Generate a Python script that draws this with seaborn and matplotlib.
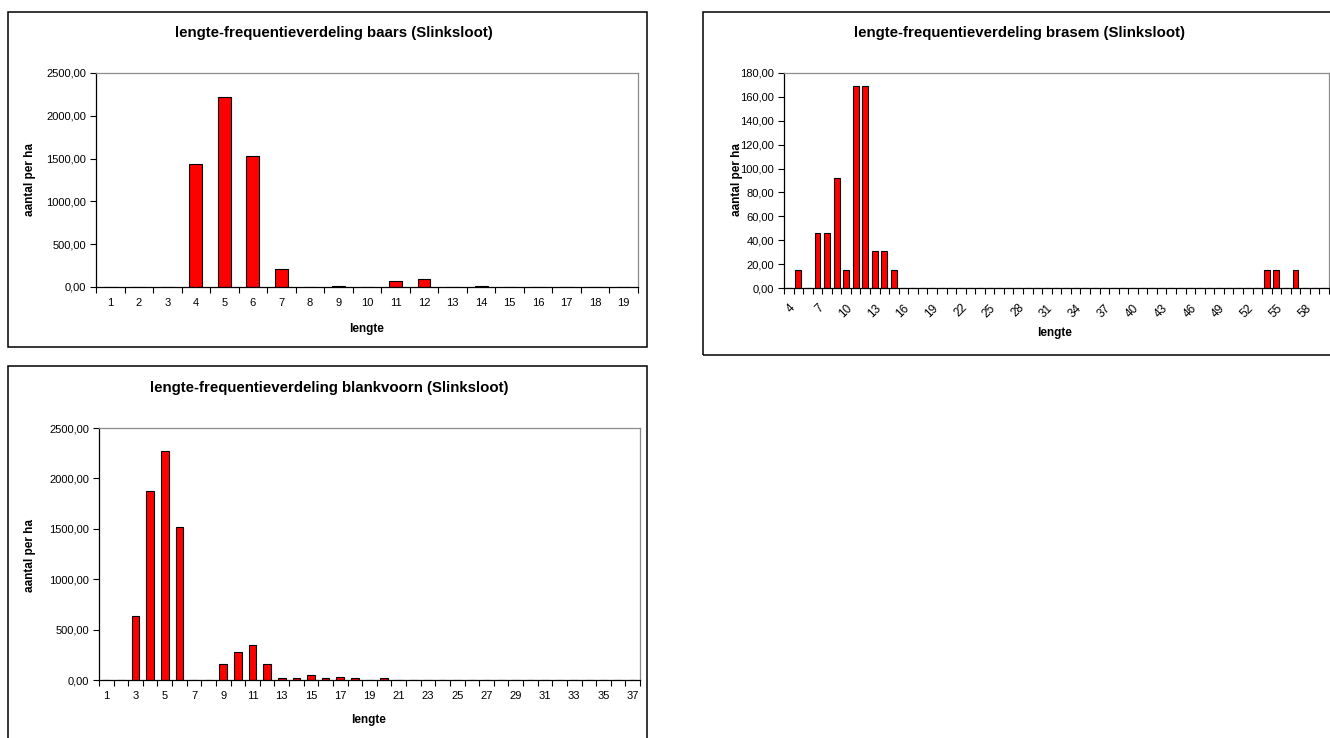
import numpy as np
import pandas as pd
import matplotlib
matplotlib.use("Agg")
import matplotlib.pyplot as plt
import seaborn as sns
from matplotlib.ticker import FuncFormatter, MultipleLocator
from matplotlib.patches import Rectangle

# ---- data: number per hectare for each length class (cm) ----
baars_lengte = list(range(1, 20))
baars_aantal = [0, 0, 0, 1440, 2215, 1530, 205, 0, 15, 0,
                65, 98, 0, 15, 0, 0, 0, 0, 0]

brasem_lengte = list(range(4, 61))
brasem_aantal = [0, 15.4, 0, 46.2, 46.2, 92.4, 15.4, 169.4, 169.4, 30.8,
                 30.8, 15.4, 0, 0, 0, 0, 0, 0, 0, 0,
                 0, 0, 0, 0, 0, 0, 0, 0, 0, 0,
                 0, 0, 0, 0, 0, 0, 0, 0, 0, 0,
                 0, 0, 0, 0, 0, 0, 0, 0, 0, 0,
                 15.4, 15.4, 0, 15.4, 0, 0, 0]

blankvoorn_lengte = list(range(1, 38))
blankvoorn_aantal = [0, 0, 632, 1877, 2275, 1520, 0, 0, 156, 275,
                     344, 156, 23, 23, 46, 23, 31, 23, 0, 23,
                     0, 0, 0, 0, 0, 0, 0, 0, 0, 0,
                     0, 0, 0, 0, 0, 0, 0]

titles = {
    "baars": "lengte-frequentieverdeling baars (Slinksloot)",
    "brasem": "lengte-frequentieverdeling brasem (Slinksloot)",
    "blankvoorn": "lengte-frequentieverdeling blankvoorn (Slinksloot)",
}

sns.set_theme(style="white")
plt.rcParams["font.family"] = ["Liberation Sans", "DejaVu Sans"]
plt.rcParams["text.color"] = "black"
plt.rcParams["axes.labelcolor"] = "black"
plt.rcParams["xtick.color"] = "black"
plt.rcParams["ytick.color"] = "black"

W, H = 1330, 738
fig = plt.figure(figsize=(W / 100, H / 100), dpi=100)
fig.patch.set_facecolor("white")

TICK_FS = 8
LABEL_FS = 8.5
TITLE_FS = 10.8


def px_axes(x0, y0, x1, y1):
    return fig.add_axes([x0 / W, 1 - y1 / H, (x1 - x0) / W, (y1 - y0) / H])


def frame(x0, y0, x1, y1):
    fig.add_artist(Rectangle((x0 / W, 1 - y1 / H), (x1 - x0) / W, (y1 - y0) / H,
                             transform=fig.transFigure, fill=False,
                             edgecolor="black", linewidth=1.1))


def ftext(x, y, s, **kw):
    fig.text(x / W, 1 - y / H, s, color="black", **kw)


comma = FuncFormatter(lambda v, pos: f"{v:.2f}".replace(".", ","))


def draw(ax, lengte, aantal, ymax, ystep, width, every, rotate=False):
    df = pd.DataFrame({"lengte": [str(v) for v in lengte], "aantal": aantal})
    sns.barplot(data=df, x="lengte", y="aantal", order=list(df["lengte"]),
                color="#ff0000", saturation=1, edgecolor="black",
                linewidth=0.8, width=width, errorbar=None, ax=ax)
    n = len(lengte)
    ax.set_xlim(-0.5, n - 0.5)
    ax.set_ylim(0, ymax)
    idx = list(range(0, n, every))
    ax.set_xticks(idx)
    if rotate:
        ax.set_xticklabels([str(lengte[i]) for i in idx], rotation=45,
                           ha="right", rotation_mode="anchor")
    else:
        ax.set_xticklabels([str(lengte[i]) for i in idx])
    ax.set_xticks(np.arange(n + 1) - 0.5, minor=True)
    ax.tick_params(axis="x", which="major", length=0, pad=8 if not rotate else 10,
                   labelsize=TICK_FS if not rotate else 8.5, colors="black")
    ax.tick_params(axis="x", which="minor", length=4, width=0.8,
                   direction="out", color="black", bottom=True)
    ax.yaxis.set_major_locator(MultipleLocator(ystep))
    ax.yaxis.set_major_formatter(comma)
    ax.tick_params(axis="y", which="major", length=4, width=0.8, direction="out",
                   left=True, pad=3, labelsize=TICK_FS, colors="black")
    ax.set_xlabel("")
    ax.set_ylabel("")
    for side in ("left", "bottom"):
        ax.spines[side].set_color("black")
        ax.spines[side].set_linewidth(0.9)
    for side in ("top", "right"):
        ax.spines[side].set_visible(True)
        ax.spines[side].set_color("#8c8c8c")
        ax.spines[side].set_linewidth(0.9)
    ax.set_facecolor("white")
    ax.grid(False)


# baars
frame(8, 12, 647, 347)
ax1 = px_axes(96, 73, 638, 287)
draw(ax1, baars_lengte, baars_aantal, 2500, 500, 0.45, 1)
ftext(334, 33, titles["baars"], ha="center", va="center", fontsize=TITLE_FS, weight="bold")
ftext(367, 329, "lengte", ha="center", va="center", fontsize=LABEL_FS, weight="bold")
ftext(30, 180, "aantal per ha", ha="center", va="center", rotation=90,
      fontsize=LABEL_FS, weight="bold")

# brasem
frame(703, 12, 1340, 355)
ax2 = px_axes(784, 73, 1329, 288)
draw(ax2, brasem_lengte, brasem_aantal, 180, 20, 0.62, 3, rotate=True)
ftext(1020, 33, titles["brasem"], ha="center", va="center", fontsize=TITLE_FS, weight="bold")
ftext(1055, 333, "lengte", ha="center", va="center", fontsize=LABEL_FS, weight="bold")
ftext(737, 180, "aantal per ha", ha="center", va="center", rotation=90,
      fontsize=LABEL_FS, weight="bold")

# blankvoorn
frame(8, 366, 647, 745)
ax3 = px_axes(99, 428, 640, 680)
draw(ax3, blankvoorn_lengte, blankvoorn_aantal, 2500, 500, 0.52, 2)
ftext(329, 388, titles["blankvoorn"], ha="center", va="center", fontsize=TITLE_FS, weight="bold")
ftext(369, 720, "lengte", ha="center", va="center", fontsize=LABEL_FS, weight="bold")
ftext(30, 555, "aantal per ha", ha="center", va="center", rotation=90,
      fontsize=LABEL_FS, weight="bold")

fig.savefig("out.png", dpi=100, facecolor="white")
